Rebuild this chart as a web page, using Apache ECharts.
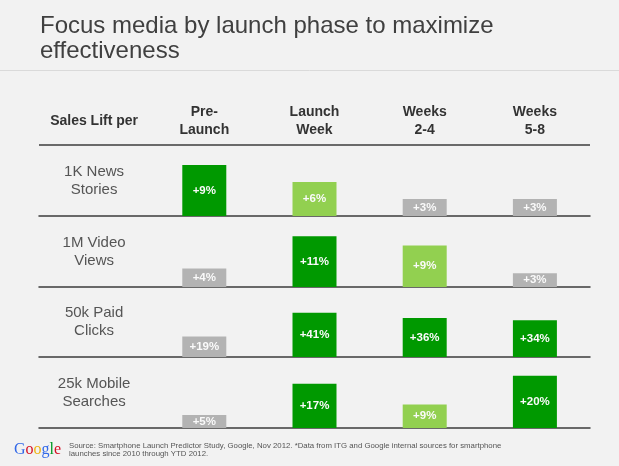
<!DOCTYPE html>
<html>
<head>
<meta charset="utf-8">
<script src="https://cdn.jsdelivr.net/npm/echarts@6/dist/echarts.min.js"></script>
<style>
  html, body { margin: 0; padding: 0; background: #f2f2f2; }
  #chart { width: 619px; height: 466px; }
</style>
</head>
<body>
<div id="chart"></div>
<script>
var phases = ['Pre-\nLaunch', 'Launch\nWeek', 'Weeks\n2-4', 'Weeks\n5-8'];
var media = ['1K News\nStories', '1M Video\nViews', '50k Paid\nClicks', '25k Mobile\nSearches'];
var lift = [
  [9, 6, 3, 3],
  [4, 11, 9, 3],
  [19, 41, 36, 34],
  [5, 17, 9, 20]
];
// how strong each cell is: high / mid / low
var tier = [
  ['high', 'mid', 'low', 'low'],
  ['low', 'high', 'mid', 'low'],
  ['low', 'high', 'high', 'high'],
  ['low', 'high', 'mid', 'high']
];
var rowAxisMax = [10.6, 13, 55.5, 23];

var tierColor = { high: '#009900', mid: '#92d050', low: '#b3b3b3' };
var rowBase = [216, 287, 357, 428];
var rowH = 60;
var left = 39, right = 590;
var colW = (right - left) / 5;

var myChart = echarts.init(document.getElementById('chart'));

var grids = [], xAxes = [], yAxes = [], series = [];
var graphics = [];

rowBase.forEach(function (base, i) {
  grids.push({ left: left, width: right - left, top: base - rowH, height: rowH });
  xAxes.push({
    type: 'category',
    gridIndex: i,
    data: [''].concat(phases),
    axisTick: { show: false },
    axisLabel: { show: false },
    axisLine: { lineStyle: { color: '#3c3c3c', width: 1.5 } }
  });
  yAxes.push({ type: 'value', gridIndex: i, min: 0, max: rowAxisMax[i], show: false });
  series.push({
    type: 'bar',
    xAxisIndex: i,
    yAxisIndex: i,
    barWidth: 44,
    data: ['-'].concat(lift[i].map(function (v, j) {
      return { value: v, itemStyle: { color: tierColor[tier[i][j]] } };
    })),
    label: {
      show: true,
      position: 'inside',
      formatter: '+{c}%',
      color: '#fafafa',
      fontWeight: 'bold',
      fontSize: 11.5,
      fontFamily: '"Liberation Sans", Arial, sans-serif'
    }
  });
  graphics.push({
    type: 'text',
    x: left + colW / 2,
    y: base - 35,
    style: {
      text: media[i],
      fill: '#555',
      font: '15px "Liberation Sans", Arial, sans-serif',
      lineHeight: 18,
      align: 'center',
      verticalAlign: 'middle'
    }
  });
});

// header row
['Sales Lift per'].concat(phases).forEach(function (t, j) {
  graphics.push({
    type: 'text',
    x: left + colW * (j + 0.5),
    y: 121,
    style: {
      text: t,
      fill: '#333',
      font: 'bold 14px "Liberation Sans", Arial, sans-serif',
      lineHeight: 18,
      align: 'center',
      verticalAlign: 'middle'
    }
  });
});

graphics.push(
  { type: 'line', shape: { x1: left, y1: 145, x2: right, y2: 145 }, style: { stroke: '#3c3c3c', lineWidth: 1.5 } },
  { type: 'line', shape: { x1: 0, y1: 70.5, x2: 619, y2: 70.5 }, style: { stroke: '#dadada', lineWidth: 1 } },
  {
    type: 'text',
    x: 14,
    y: 450,
    style: {
      text: '{b|G}{r|o}{y|o}{b|g}{g|l}{r|e}',
      verticalAlign: 'middle',
      rich: {
        b: { fill: '#3369e8', font: '16px "Liberation Serif", serif' },
        r: { fill: '#d50f25', font: '16px "Liberation Serif", serif' },
        y: { fill: '#eeb211', font: '16px "Liberation Serif", serif' },
        g: { fill: '#009925', font: '16px "Liberation Serif", serif' }
      }
    }
  },
  {
    type: 'text',
    x: 69,
    y: 450,
    style: {
      text: 'Source: Smartphone Launch Predictor Study, Google, Nov 2012. *Data from ITG and Google internal sources for smartphone\nlaunches since 2010 through YTD 2012.',
      fill: '#555',
      font: '7.8px "Liberation Sans", Arial, sans-serif',
      lineHeight: 8.5,
      verticalAlign: 'middle'
    }
  }
);

var option = {
  backgroundColor: '#f2f2f2',
  animation: false,
  title: {
    text: 'Focus media by launch phase to maximize\neffectiveness',
    left: 35,
    top: 9,
    textStyle: {
      color: '#404040',
      fontSize: 24,
      fontWeight: 'normal',
      lineHeight: 25,
      fontFamily: '"Liberation Sans", Arial, sans-serif'
    }
  },
  grid: grids,
  xAxis: xAxes,
  yAxis: yAxes,
  series: series,
  graphic: graphics
};

option && myChart.setOption(option);
</script>
</body>
</html>
